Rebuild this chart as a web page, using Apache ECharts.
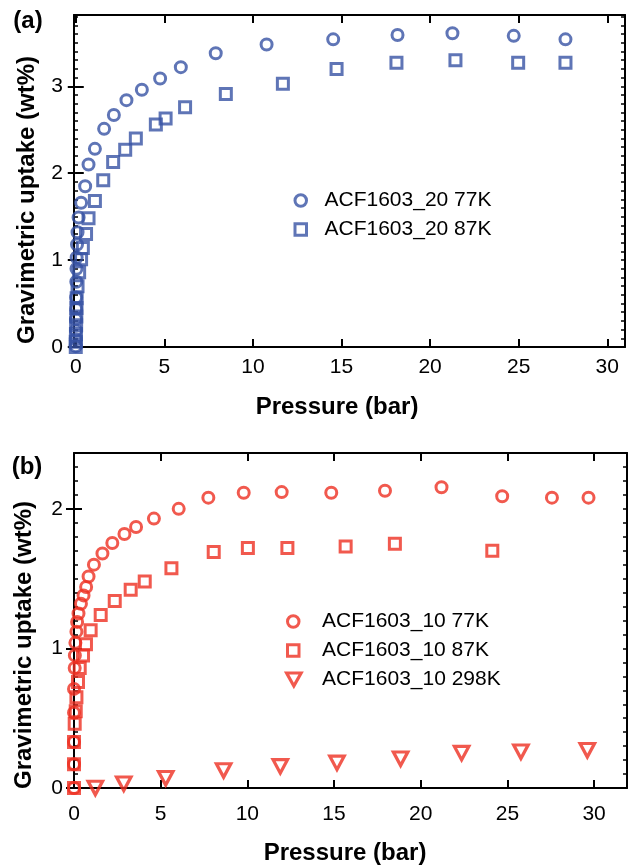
<!DOCTYPE html>
<html>
<head>
<meta charset="utf-8">
<script src="https://cdn.jsdelivr.net/npm/echarts@6/dist/echarts.min.js"></script>
<style>
  html, body { margin: 0; padding: 0; background: #fff; }
  #chart { width: 628px; height: 865px; }
</style>
</head>
<body>
<div id="chart"></div>
<script>
// panel (a) ACF1603_20
var a77x = [0.0, 0.0, 0.01, 0.01, 0.02, 0.02, 0.03, 0.04, 0.05, 0.07, 0.1, 0.16, 0.3, 0.53, 0.72, 1.08, 1.6, 2.15, 2.86, 3.73, 4.76, 5.93, 7.9, 10.77, 14.53, 18.16, 21.26, 24.72, 27.64]
var a77y = [0.01, 0.09, 0.19, 0.32, 0.44, 0.57, 0.75, 0.9, 1.03, 1.18, 1.32, 1.49, 1.66, 1.85, 2.1, 2.28, 2.51, 2.67, 2.84, 2.96, 3.09, 3.22, 3.38, 3.48, 3.54, 3.59, 3.61, 3.58, 3.54]
var a87x = [0.0, 0.0, 0.01, 0.02, 0.03, 0.04, 0.05, 0.1, 0.19, 0.3, 0.4, 0.58, 0.72, 1.08, 1.55, 2.11, 2.79, 3.39, 4.52, 5.07, 6.17, 8.47, 11.69, 14.72, 18.1, 21.43, 24.97, 27.64]
var a87y = [0.0, 0.06, 0.15, 0.25, 0.35, 0.45, 0.56, 0.7, 0.86, 1.01, 1.14, 1.3, 1.48, 1.68, 1.92, 2.13, 2.27, 2.4, 2.56, 2.63, 2.76, 2.91, 3.03, 3.2, 3.27, 3.3, 3.27, 3.27]

// panel (b) ACF1603_10
var b77x = [0.0, 0.0, 0.0, 0.0, 0.0, 0.04, 0.05, 0.08, 0.14, 0.18, 0.26, 0.4, 0.55, 0.7, 0.84, 1.15, 1.64, 2.21, 2.91, 3.58, 4.61, 6.04, 7.75, 9.79, 11.98, 14.84, 17.94, 21.2, 24.7, 27.57, 29.68]
var b77y = [0.0, 0.17, 0.33, 0.54, 0.71, 0.86, 0.95, 1.04, 1.12, 1.19, 1.25, 1.32, 1.38, 1.44, 1.515, 1.6, 1.68, 1.755, 1.82, 1.87, 1.93, 2.0, 2.08, 2.115, 2.12, 2.115, 2.13, 2.155, 2.09, 2.08, 2.08]
var b87x = [0.0, 0.0, 0.0, 0.04, 0.1, 0.14, 0.23, 0.33, 0.52, 0.69, 0.96, 1.54, 2.35, 3.27, 4.08, 5.62, 8.06, 10.03, 12.31, 15.67, 18.51, 24.13]
var b87y = [0.0, 0.17, 0.33, 0.46, 0.55, 0.65, 0.76, 0.86, 0.95, 1.03, 1.13, 1.24, 1.34, 1.42, 1.48, 1.575, 1.69, 1.72, 1.72, 1.73, 1.75, 1.7]
var b298x = [1.23, 2.87, 5.29, 8.63, 11.9, 15.17, 18.84, 22.36, 25.78, 29.61]
var b298y = [0.0, 0.03, 0.07, 0.125, 0.155, 0.18, 0.21, 0.25, 0.26, 0.27]

var xTicks = [0, 5, 10, 15, 20, 25, 30]
var aYTicks = [0, 1, 2, 3]
var bYTicks = [0, 1, 2]

var blue = '#3752a4'
var red = '#ed2f22'
var font = '"Liberation Sans", Arial, Helvetica, sans-serif'
var downTri = 'path://M0,0 L10,0 L5,9 Z'

function pairs (xs, ys) {
  return xs.map(function (x, i) { return [x, ys[i]] })
}

function xAxes (grid, min, max, margin) {
  var common = {
    type: 'value', gridIndex: grid, min: min, max: max,
    axisLine: { show: true, onZero: false, lineStyle: { color: '#000', width: 2 } },
    axisTick: { show: true, inside: true, length: 8, customValues: xTicks, lineStyle: { color: '#000', width: 2 } },
    splitLine: { show: false }
  }
  return [
    Object.assign({}, common, {
      position: 'bottom',
      axisLabel: { show: true, customValues: xTicks, margin: margin, color: '#000', fontSize: 21, fontFamily: font }
    }),
    Object.assign({}, common, { position: 'top', axisLabel: { show: false } })
  ]
}

function yAxes (grid, max, labels) {
  var out = []
  ;['left', 'right'].forEach(function (pos) {
    // minor ticks every 0.1
    out.push({
      type: 'value', gridIndex: grid, position: pos, min: 0, max: max, interval: 0.1,
      axisLine: { show: true, onZero: false, lineStyle: { color: '#000', width: 2 } },
      axisTick: { show: true, inside: true, length: 4, lineStyle: { color: '#000', width: 1.5 } },
      axisLabel: { show: false },
      splitLine: { show: false }
    })
    // major ticks every 1
    out.push({
      type: 'value', gridIndex: grid, position: pos, min: 0, max: max, interval: 1,
      axisLine: { show: false },
      axisTick: { show: true, inside: true, length: 8, customValues: labels, lineStyle: { color: '#000', width: 2 } },
      axisLabel: { show: pos === 'left', customValues: labels, margin: 11, color: '#000', fontSize: 21, fontFamily: font },
      splitLine: { show: false }
    })
  })
  return out
}

function scatter (name, data, xi, yi, symbol, size, color, width) {
  return {
    name: name, type: 'scatter', xAxisIndex: xi, yAxisIndex: yi,
    data: data, symbol: symbol, symbolSize: size,
    itemStyle: { color: 'transparent', borderColor: color, borderWidth: width, borderJoin: 'miter' },
    emphasis: { disabled: true },
    silent: true, animation: false
  }
}

function legend (names, left, top, w, h, gap, bw) {
  return {
    data: names, orient: 'vertical', left: left, top: top, padding: 0,
    itemWidth: w, itemHeight: h, itemGap: 8,
    itemStyle: { borderWidth: bw },
    textStyle: { color: '#000', fontSize: 21, fontFamily: font, padding: [0, 0, 0, gap] },
    selectedMode: false
  }
}

function label (text, x, y, size, rot) {
  return {
    type: 'text', x: x, y: y, rotation: rot || 0,
    style: { text: text, fill: '#000', font: 'bold ' + size + 'px ' + font, textAlign: 'center', textVerticalAlign: 'middle' }
  }
}

var chart = echarts.init(document.getElementById('chart'), null, { renderer: 'canvas' })

chart.setOption({
  backgroundColor: '#fff',
  animation: false,
  grid: [
    { left: 74, top: 15, width: 551, height: 332 },
    { left: 74, top: 453, width: 553, height: 335 }
  ],
  xAxis: xAxes(0, -0.1, 31, 10).concat(xAxes(1, 0, 31.9, 16)),
  yAxis: yAxes(0, 3.82, aYTicks).concat(yAxes(1, 2.4, bYTicks)),
  legend: [
    legend(['ACF1603_20 77K', 'ACF1603_20 87K'], 293.5, 190, 11.5, 11.5, 13, 3),
    legend(['ACF1603_10 77K', 'ACF1603_10 87K'], 286, 611, 11.5, 11.5, 18, 3),
    legend(['ACF1603_10 298K'], 285, 669, 14.5, 13.5, 16, 3.2)
  ],
  series: [
    scatter('ACF1603_20 77K', pairs(a77x, a77y), 0, 0, 'circle', 11, blue, 3),
    scatter('ACF1603_20 87K', pairs(a87x, a87y), 0, 0, 'rect', 11, blue, 3),
    scatter('ACF1603_10 77K', pairs(b77x, b77y), 2, 4, 'circle', 11, red, 3),
    scatter('ACF1603_10 87K', pairs(b87x, b87y), 2, 4, 'rect', 11, red, 3),
    scatter('ACF1603_10 298K', pairs(b298x, b298y), 2, 4, downTri, [14.5, 13.5], red, 3.2)
  ],
  graphic: [
    label('(a)', 28, 21, 24),
    label('(b)', 27, 467, 24),
    label('Gravimetric uptake (wt%)', 27, 200, 24, Math.PI / 2),
    label('Gravimetric uptake (wt%)', 24, 645, 24, Math.PI / 2),
    label('Pressure (bar)', 337, 407, 24),
    label('Pressure (bar)', 345, 853, 24)
  ]
})
</script>
</body>
</html>
